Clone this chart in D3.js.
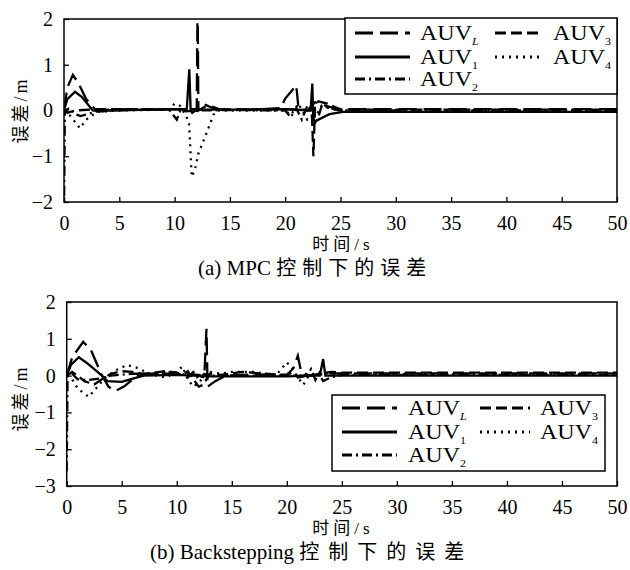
<!DOCTYPE html>
<html><head><meta charset="utf-8">
<script src="https://cdn.jsdelivr.net/npm/d3@7"></script>
<style>body{margin:0;background:#fff}svg{display:block}</style>
</head><body>
<svg id="c" width="630" height="570"></svg>
<script>
// ---- data ----
const xTicks = [0,5,10,15,20,25,30,35,40,45,50];
const yTicksA = [-2,-1,0,1,2];
const yTicksB = [-3,-2,-1,0,1,2];
const seriesNames = ["L","1","2","3","4"];
const legendOrder = ["L","3","1","4","2"];

// (a) MPC
const mpcL = [[0,0],[0.3,0.5],[0.8,0.78],[1.3,0.6],[2,0.25],[2.9,0],[4,0.02],[6,0.03],[8,0.02],[10,0.03],[11.8,0.02],[12.0,0],[12.08,2.5],[12.15,0],[13,0.12],[14,0.03],[17,0.02],[19.6,0.05],[20.0,0.26],[21.0,0.55],[21.2,0.05],[22.0,0],[22.7,0.18],[24,0.08],[25,0.03],[50,0.03]];
const mpc1 = [[0,0],[0.3,0.25],[1.0,0.41],[1.6,0.3],[2.6,0],[3.5,-0.02],[4,0],[8,0.02],[11.1,0.03],[11.33,0.9],[11.45,0],[11.6,-0.05],[12,0.02],[15,0.02],[20,0.03],[22.3,0],[22.45,0.59],[22.55,-0.25],[23,-0.2],[24,-0.08],[25.2,-0.03],[50,-0.03]];
const mpc2 = [[0,-2.3],[0.08,0],[0.5,0.05],[1.0,-0.08],[1.5,-0.12],[3,-0.02],[5,0.01],[9.5,0.02],[10.2,-0.2],[10.6,0.05],[11,-0.02],[12,0],[15,0.01],[20,0],[20.5,-0.15],[21,0.05],[21.5,-0.2],[22,0.1],[22.8,-0.3],[23.3,0.1],[25,0],[50,0]];
const mpc3 = [[0,0],[0.3,-0.05],[1,0],[3,0.03],[10,0.03],[12.5,0.03],[12.8,0.12],[13.5,0.05],[14,0.02],[20,0.03],[22.4,0],[22.55,-1.0],[22.7,0.1],[23,0.2],[23.8,0.15],[25,0.02],[50,0.02]];
const mpc4 = [[0,0],[0.5,-0.1],[1,-0.25],[1.45,-0.39],[2,-0.2],[3,-0.03],[5,0],[9.5,0.02],[10,0.15],[10.5,0.1],[11,-0.1],[11.3,-0.25],[11.55,-1.45],[11.85,-1.28],[12.15,-0.94],[12.75,-0.58],[13.1,-0.36],[13.5,-0.1],[13.8,0],[15,0],[20,0],[20.5,-0.1],[21.2,0.15],[22,-0.2],[22.8,-0.1],[23.3,0.1],[24,0.05],[25,-0.01],[50,-0.01]];

// (b) Backstepping
const bsL = [[0,0],[0.5,0.5],[1.5,0.92],[2.2,0.7],[3.2,0],[3.8,-0.3],[4.4,-0.42],[5.2,-0.3],[6.4,0],[8,0.05],[10,0.05],[12,0.02],[12.5,-0.05],[12.7,1.27],[12.8,-0.3],[13.5,-0.15],[14.5,0],[17,0.03],[20,0.02],[20.6,0.2],[21.0,0.54],[21.3,0.1],[22,0],[24,0.06],[50,0.06]];
const bs1 = [[0,0],[0.4,0.3],[1.1,0.5],[1.8,0.35],[3.2,0],[3.7,-0.15],[5,-0.17],[6,-0.08],[7,0],[10,0.02],[13,-0.02],[20,-0.02],[22,0],[23.0,0],[23.3,0.45],[23.5,0],[24.5,0],[50,0]];
const bs2 = [[0,-2.6],[0.08,0],[0.5,0.05],[1,-0.1],[2,-0.12],[3,-0.08],[4,0],[6,0.05],[8,0.05],[9.5,0.1],[10.5,0.05],[11,-0.05],[11.5,0.1],[12,-0.1],[12.5,0.05],[13,0],[20,0],[21.8,0],[22.2,0.18],[22.6,-0.12],[22.9,0.05],[23.3,-0.15],[24,-0.05],[25,0.02],[50,0.02]];
const bs3 = [[0,0],[0.5,0.1],[1,0],[1.6,-0.15],[2.5,-0.24],[3.2,-0.1],[4,0.05],[5,0.12],[6,0.1],[7,0.05],[9,0.12],[10,0.08],[10.5,0],[11,0.12],[11.5,-0.1],[12,-0.3],[12.4,-0.25],[13,0.05],[14,0.02],[16,0.1],[18,0.05],[20,0.02],[20.6,0.1],[21,-0.05],[22,0],[23,0.05],[24,0.1],[25,0.08],[50,0.08]];
const bs4 = [[0,0],[0.5,-0.1],[1,-0.35],[2,-0.58],[2.8,-0.3],[3.5,-0.05],[4.5,0.15],[5.5,0.29],[6.5,0.2],[7.5,0.05],[9,-0.05],[10,0.1],[10.5,0.25],[11,-0.1],[11.5,-0.3],[12,-0.2],[12.5,0],[13,0.1],[14,0.05],[15,0.1],[17,0.1],[19,0],[20,0.36],[20.5,0.2],[21,-0.05],[21.5,-0.25],[22,0],[23,0.1],[24,0.05],[25,0.04],[50,0.04]];

// ---- styles ----
const dash = {L:"18,7","1":null,"2":"10,4,2,4","3":"11,5","4":"2,5"};
const serif = "'Liberation Serif', 'Times New Roman', 'Noto Sans CJK SC', serif";

const svg = d3.select("#c");

function panel(cfg){
  const {left,right,top,bottom,yDomain,yTicks,data,legend,ylabelY,xlabelY,caption,captionY,capSpacing,id} = cfg;
  const x = d3.scaleLinear().domain([0,50]).range([left,right]);
  const y = d3.scaleLinear().domain(yDomain).range([bottom,top]);
  const g = svg.append("g");
  g.append("clipPath").attr("id",id).append("rect")
    .attr("x",left).attr("y",top).attr("width",right-left).attr("height",bottom-top);
  const line = d3.line().x(d=>x(d[0])).y(d=>y(d[1]));
  const lg = g.append("g").attr("clip-path",`url(#${id})`);
  seriesNames.forEach(k=>{
    lg.append("path").attr("d",line(data[k])).attr("fill","none")
      .attr("stroke","#000").attr("stroke-width",2.3)
      .attr("stroke-dasharray",dash[k]);
  });
  // axes
  const xa = d3.axisBottom(x).tickValues(xTicks).tickSize(-5).tickPadding(10).tickFormat(d3.format("d"));
  const ya = d3.axisLeft(y).tickValues(yTicks).tickSize(-5).tickPadding(11).tickFormat(d=>d<0?"\u2212"+(-d):d);
  const gx = g.append("g").attr("transform",`translate(0,${bottom})`).call(xa);
  const gy = g.append("g").attr("transform",`translate(${left},0)`).call(ya);
  [gx,gy].forEach(a=>{
    a.attr("font-family",null).attr("font-size",null);
    a.select(".domain").remove();
    a.selectAll("line").attr("stroke","#000").attr("stroke-width",1.3);
    a.selectAll("text").style("font-family",serif).style("font-size","20px").attr("fill","#000");
  });
  gx.selectAll("text").attr("dy","0.9em");
  g.append("rect").attr("x",left).attr("y",top).attr("width",right-left).attr("height",bottom-top)
    .attr("fill","none").attr("stroke","#000").attr("stroke-width",1.5);
  // y label
  g.append("text").attr("transform",`translate(27,${ylabelY}) rotate(-90)`)
    .attr("text-anchor","middle").style("font-family",serif).style("font-size","18px")
    .attr("letter-spacing",3).text("误差/m");
  g.append("text").attr("x",343).attr("y",xlabelY).attr("text-anchor","middle")
    .style("font-family",serif).style("font-size","17px").attr("letter-spacing",4).text("时间/s");
  const cap = g.append("text").attr("x",caption[2]).attr("y",captionY)
    .style("font-family",serif).style("font-size","21px");
  cap.append("tspan").text(caption[0]);
  cap.append("tspan").style("font-size","20px").attr("letter-spacing",capSpacing).text(caption[1]);
  // legend
  const L = legend;
  g.append("rect").attr("x",L.x0).attr("y",L.y0).attr("width",L.x1-L.x0).attr("height",L.y1-L.y0)
    .attr("fill","#fff").attr("stroke","#000").attr("stroke-width",1.5);
  legendOrder.forEach((k,i)=>{
    const col = i%2, row = Math.floor(i/2);
    const yy = L.rows[row];
    const lx = L.cols[col];
    g.append("line").attr("x1",lx[0]).attr("x2",lx[1]).attr("y1",yy).attr("y2",yy)
      .attr("stroke","#000").attr("stroke-width",2.8).attr("stroke-dasharray",dash[k]);
    const t = g.append("text").attr("transform",`translate(${lx[2]},${yy+7}) scale(1.2,1)`)
      .style("font-family",serif).style("font-size","20px");
    t.append("tspan").text("AUV");
    const s = t.append("tspan").attr("dy",5).style("font-size","10px").text(k);
    if(k==="L") s.style("font-style","italic");
  });
}

panel({id:"ca",left:64,right:617,top:19,bottom:202,yDomain:[-2,2],yTicks:yTicksA,
  data:{L:mpcL,"1":mpc1,"2":mpc2,"3":mpc3,"4":mpc4},
  legend:{x0:345,x1:617,y0:18,y1:94,rows:[33,57,79],cols:[[355,410,420],[495,542,553]]},
  ylabelY:110,xlabelY:250,caption:["(a) MPC ","控制下的误差",198],captionY:275,capSpacing:6});

panel({id:"cb",left:66.7,right:617,top:302,bottom:486,yDomain:[-3,2],yTicks:yTicksB,
  data:{L:bsL,"1":bs1,"2":bs2,"3":bs3,"4":bs4},
  legend:{x0:332,x1:605,y0:395,y1:471,rows:[408,432,455],cols:[[342,397,408],[480,530,540]]},
  ylabelY:398,xlabelY:534,caption:["(b) Backstepping ","控制下的误差",150],captionY:559,capSpacing:9});
</script>
</body></html>
